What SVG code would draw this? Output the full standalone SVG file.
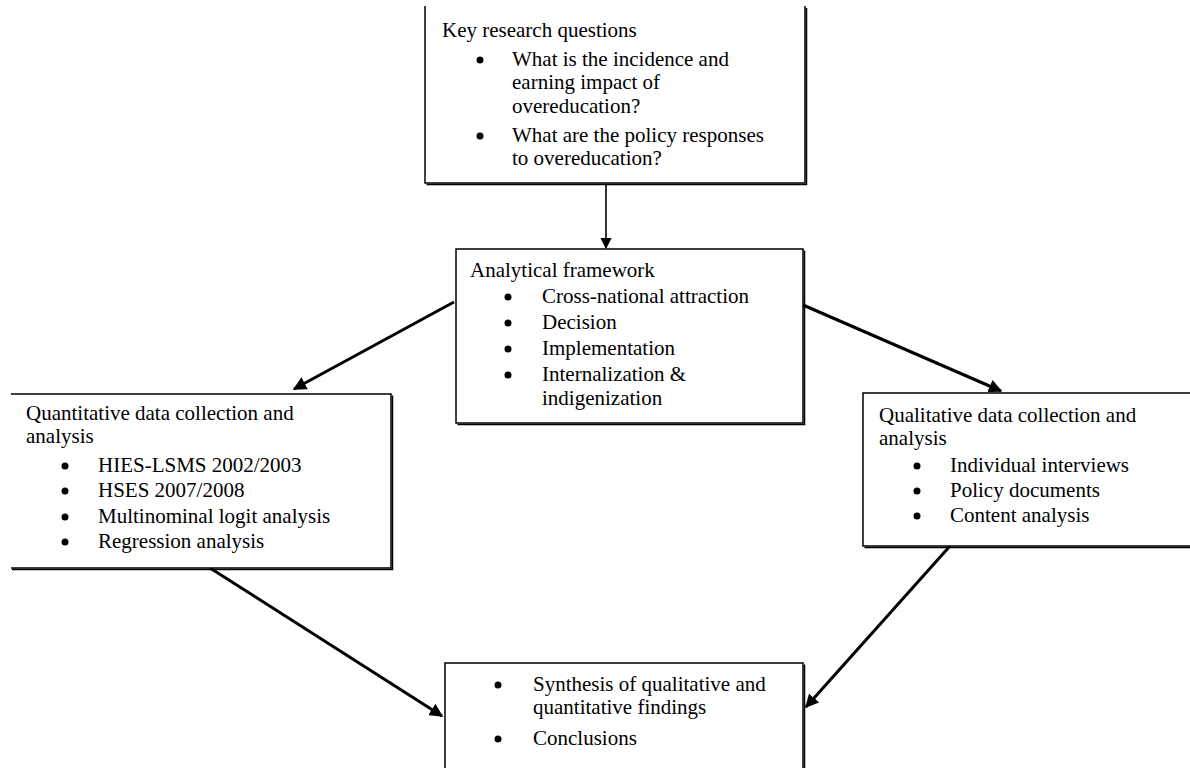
<svg xmlns="http://www.w3.org/2000/svg" width="1190" height="768" viewBox="0 0 1190 768">
  <style>
    text { font-family: "Liberation Serif", "Times New Roman", serif; font-size: 21px; fill: #000; }
    .box { fill: #fff; stroke: #000; stroke-width: 1.5; }
    .shadow { fill: none; stroke: #000; stroke-width: 1.5; }
    .link { fill: none; stroke: #000; stroke-width: 3; }
    .thin { fill: none; stroke: #000; stroke-width: 1.6; }
    .dot { fill: #000; }
  </style>
  <defs>
    <marker id="head" viewBox="0 0 10 10" refX="9" refY="5" markerWidth="4.5" markerHeight="4.5" orient="auto" markerUnits="strokeWidth">
      <path d="M0,0 L10,5 L0,10 z" fill="#000"/>
    </marker>
    <marker id="headThin" viewBox="0 0 10 10" refX="9" refY="5" markerWidth="7" markerHeight="7" orient="auto" markerUnits="strokeWidth">
      <path d="M0,0 L10,5 L0,10 z" fill="#000"/>
    </marker>
  </defs>
  <rect width="1190" height="768" fill="#fff"/>

  <!-- connectors -->
  <g id="connectors">
    <line class="thin" x1="606" y1="184" x2="606" y2="248" marker-end="url(#headThin)"/>
    <line class="link" x1="454" y1="302" x2="294" y2="389" marker-end="url(#head)"/>
    <line class="link" x1="803" y1="305" x2="1001" y2="391" marker-end="url(#head)"/>
    <line class="link" x1="210" y1="568" x2="442" y2="716" marker-end="url(#head)"/>
    <line class="link" x1="950" y1="546" x2="806" y2="707" marker-end="url(#head)"/>
  </g>

  <!-- key research questions -->
  <g id="questions">
    <path class="box" d="M425,6 V183 H805 V6"/>
    <path class="shadow" d="M426.5,184.5 H806.5 V8"/>
    <text x="442" y="37">Key research questions</text>
    <circle class="dot" cx="480" cy="60" r="3.5"/>
    <text x="512" y="66">What is the incidence and</text>
    <text x="512" y="89">earning impact of</text>
    <text x="512" y="113">overeducation?</text>
    <circle class="dot" cx="480" cy="136" r="3.5"/>
    <text x="512" y="142">What are the policy responses</text>
    <text x="512" y="165">to overeducation?</text>
  </g>

  <!-- analytical framework -->
  <g id="framework">
    <rect class="box" x="456" y="249" width="347" height="174"/>
    <path class="shadow" d="M457.5,424.5 H804.5 V250.5"/>
    <text x="470" y="277">Analytical framework</text>
    <circle class="dot" cx="508" cy="297" r="3.5"/>
    <text x="542" y="303">Cross-national attraction</text>
    <circle class="dot" cx="508" cy="323" r="3.5"/>
    <text x="542" y="329">Decision</text>
    <circle class="dot" cx="508" cy="349" r="3.5"/>
    <text x="542" y="355">Implementation</text>
    <circle class="dot" cx="508" cy="375" r="3.5"/>
    <text x="542" y="381">Internalization &amp;</text>
    <text x="542" y="405">indigenization</text>
  </g>

  <!-- quantitative strand -->
  <g id="quantitative">
    <path class="box" d="M11,394 H391 V568 H11"/>
    <path class="shadow" d="M392.5,395.5 V569.5 H12"/>
    <text x="26" y="420">Quantitative data collection and</text>
    <text x="26" y="443">analysis</text>
    <circle class="dot" cx="65" cy="466" r="3.5"/>
    <text x="98" y="472">HIES-LSMS 2002/2003</text>
    <circle class="dot" cx="65" cy="491" r="3.5"/>
    <text x="98" y="497">HSES 2007/2008</text>
    <circle class="dot" cx="65" cy="517" r="3.5"/>
    <text x="98" y="523">Multinominal logit analysis</text>
    <circle class="dot" cx="65" cy="542" r="3.5"/>
    <text x="98" y="548">Regression analysis</text>
  </g>

  <!-- qualitative strand -->
  <g id="qualitative">
    <path class="box" d="M1195,393 H863 V546 H1195"/>
    <path class="shadow" d="M864.5,547.5 H1195"/>
    <text x="879" y="422">Qualitative data collection and</text>
    <text x="879" y="445">analysis</text>
    <circle class="dot" cx="917" cy="466" r="3.5"/>
    <text x="950" y="472">Individual interviews</text>
    <circle class="dot" cx="917" cy="491" r="3.5"/>
    <text x="950" y="497">Policy documents</text>
    <circle class="dot" cx="917" cy="516" r="3.5"/>
    <text x="950" y="522">Content analysis</text>
  </g>

  <!-- synthesis -->
  <g id="synthesis">
    <path class="box" d="M445,775 V663 H803 V775"/>
    <path class="shadow" d="M804.5,664.5 V775"/>
    <circle class="dot" cx="498" cy="685" r="3.5"/>
    <text x="533" y="691">Synthesis of qualitative and</text>
    <text x="533" y="714">quantitative findings</text>
    <circle class="dot" cx="498" cy="739" r="3.5"/>
    <text x="533" y="745">Conclusions</text>
  </g>
</svg>
